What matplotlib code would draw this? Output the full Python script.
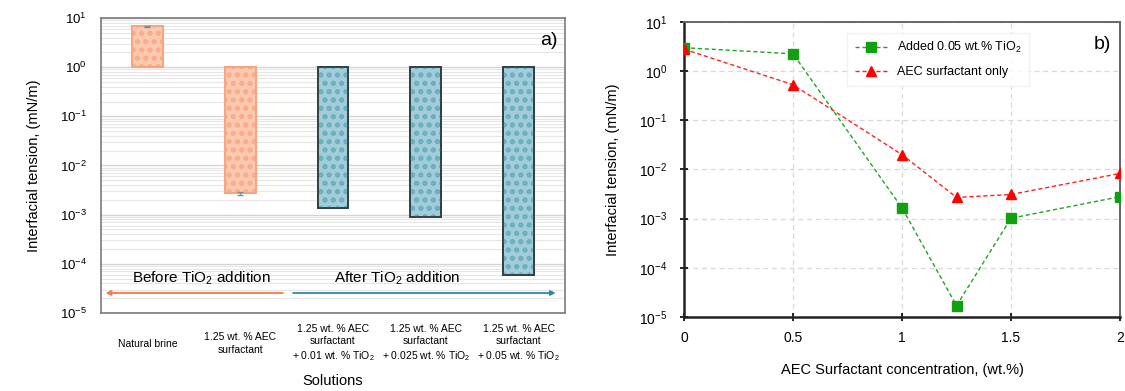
import numpy as np
import matplotlib
matplotlib.use("Agg")
import matplotlib.pyplot as plt
from matplotlib.ticker import LogLocator, NullFormatter

plt.rcParams['font.family'] = ['Liberation Sans', 'DejaVu Sans']
plt.rcParams['mathtext.fontset'] = 'custom'
plt.rcParams['mathtext.rm'] = 'Liberation Sans'
plt.rcParams['mathtext.it'] = 'Liberation Sans:italic'
plt.rcParams['mathtext.bf'] = 'Liberation Sans:bold'
plt.rcParams['hatch.linewidth'] = 2.5

# --- data: panel a ---
solutions = ["Natural brine",
             "1.25 wt. % AEC\nsurfactant",
             "1.25 wt. % AEC\nsurfactant\n+ 0.01 wt. % TiO$_2$",
             "1.25 wt. % AEC\nsurfactant\n+ 0.025 wt. % TiO$_2$",
             "1.25 wt. % AEC\nsurfactant\n+ 0.05 wt. % TiO$_2$"]
ift_a = [6.8, 2.7e-3, 1.35e-3, 8.8e-4, 5.9e-5]
err_a = [0.15, 2e-4, 0, 0, 0]
before = [True, True, False, False, False]

# --- data: panel b ---
conc = [0, 0.5, 1, 1.25, 1.5, 2]
ift_tio2 = [3.0, 2.25, 1.65e-3, 1.7e-5, 1.02e-3, 2.8e-3]
ift_only = [2.8, 0.53, 0.020, 2.7e-3, 3.1e-3, 8.3e-3]

fig = plt.figure(figsize=(11.25, 3.91), dpi=100)
ax1 = fig.add_axes([0.0898, 0.1995, 0.4124, 0.7545])
ax2 = fig.add_axes([0.608, 0.1893, 0.3876, 0.7545])

# ---------------- panel a ----------------
x = np.arange(len(solutions))
face = ['#fcc8b0' if b else '#a2ccd7' for b in before]
dots = ['#f8ab8a' if b else '#68adbf' for b in before]
edge = ['#f7a47c' if b else '#2f3c40' for b in before]
h = [v - 1 for v in ift_a]
ax1.bar(x, h, bottom=1, width=0.33, color=face, edgecolor=edge, linewidth=1.2, zorder=3)
ax1.bar(x, h, bottom=1, width=0.33, color='none', edgecolor=dots, hatch='..',
        linewidth=0, zorder=3)
ax1.bar(x, h, bottom=1, width=0.33, color='none', edgecolor=edge, linewidth=1.2, zorder=3)
ax1.errorbar(x[:2], ift_a[:2], yerr=err_a[:2], fmt='none', ecolor='#888888',
             capsize=2, lw=0.8, zorder=4)

ax1.set_yscale('log')
ax1.set_ylim(1e-5, 1e1)
ax1.set_xlim(-0.5, 4.5)
ax1.yaxis.set_major_locator(LogLocator(base=10, numticks=10))
ax1.yaxis.set_minor_locator(LogLocator(base=10, subs=np.arange(2, 10), numticks=20))
ax1.yaxis.set_minor_formatter(NullFormatter())
ax1.grid(True, which='major', axis='y', color='#d4d4d4', lw=1.0, zorder=0)
ax1.grid(True, which='minor', axis='y', color='#e6e6e6', lw=0.8, zorder=0)
ax1.tick_params(axis='y', which='both', length=0, labelsize=9.5, pad=10)
ax1.set_xticks(x)
ax1.set_xticklabels(solutions, fontsize=7.5, linespacing=1.3)
for lab in ax1.get_xticklabels():
    lab.set_verticalalignment('center')
ax1.tick_params(axis='x', length=0, pad=22)
for s in ax1.spines.values():
    s.set_color('#7a7a7a')
    s.set_linewidth(1.2)
ax1.set_ylabel("Interfacial tension, (mN/m)", fontsize=10.5, labelpad=14)
ax1.set_xlabel("Solutions", fontsize=10.5, labelpad=8)
ax1.text(0.965, 0.925, "a)", transform=ax1.transAxes, fontsize=14, ha='center', va='center')

ax1.annotate("", xy=(-0.45, 2.55e-5), xytext=(1.46, 2.55e-5),
             arrowprops=dict(arrowstyle='-|>', color='#f47b3f', lw=1.3,
                             mutation_scale=7, shrinkA=0, shrinkB=0))
ax1.annotate("", xy=(4.4, 2.55e-5), xytext=(1.57, 2.55e-5),
             arrowprops=dict(arrowstyle='-|>', color='#2c8aa6', lw=1.3,
                             mutation_scale=7, shrinkA=0, shrinkB=0))
ax1.text(0.58, 5.1e-5, "Before TiO$_2$ addition", fontsize=11, ha='center', va='center')
ax1.text(2.69, 5.1e-5, "After TiO$_2$ addition", fontsize=11, ha='center', va='center')

# ---------------- panel b ----------------
ax2.plot(conc, ift_tio2, ls=(0, (3, 2)), lw=1.0, color='#1fa51f', marker='s',
         ms=6.5, mfc='#12a012', mec='#12a012', label="Added 0.05 wt.% TiO$_2$", zorder=3)
ax2.plot(conc, ift_only, ls=(0, (3, 2)), lw=1.0, color='#ff2020', marker='^',
         ms=7.5, mfc='#ff0000', mec='#ff0000', label="AEC surfactant only", zorder=4)
ax2.set_yscale('log')
ax2.set_ylim(1e-5, 1e1)
ax2.set_xlim(0, 2)
ax2.set_xticks([0, 0.5, 1, 1.5, 2])
ax2.set_xticklabels(['0', '0.5', '1', '1.5', '2'])
ax2.yaxis.set_major_locator(LogLocator(base=10, numticks=10))
ax2.yaxis.set_minor_locator(LogLocator(base=10, subs=[], numticks=10))
ax2.grid(True, which='major', color='#d8d8d8', ls=(0, (4, 3)), lw=0.9, zorder=0)
ax2.tick_params(axis='both', which='major', direction='inout', length=6, width=1.2,
                labelsize=10)
ax2.tick_params(axis='y', pad=9)
ax2.tick_params(axis='x', pad=7)
ax2.spines['left'].set_linewidth(1.8)
ax2.spines['bottom'].set_linewidth(1.8)
ax2.spines['left'].set_color('#222222')
ax2.spines['bottom'].set_color('#222222')
ax2.spines['top'].set_color('#666666')
ax2.spines['right'].set_color('#666666')
ax2.spines['top'].set_linewidth(1.4)
ax2.spines['right'].set_linewidth(1.4)
ax2.set_ylabel("Interfacial tension, (mN/m)", fontsize=10.5, labelpad=14)
ax2.set_xlabel("AEC Surfactant concentration, (wt.%)", fontsize=10.5, labelpad=13)
ax2.text(0.96, 0.925, "b)", transform=ax2.transAxes, fontsize=14, ha='center', va='center')
leg = ax2.legend(loc='upper left', bbox_to_anchor=(0.36, 0.985), fontsize=9,
                 frameon=True, fancybox=False, edgecolor='#eeeeee',
                 handlelength=2.6, labelspacing=0.9, borderpad=0.6)

fig.savefig("out.png", dpi=100)
